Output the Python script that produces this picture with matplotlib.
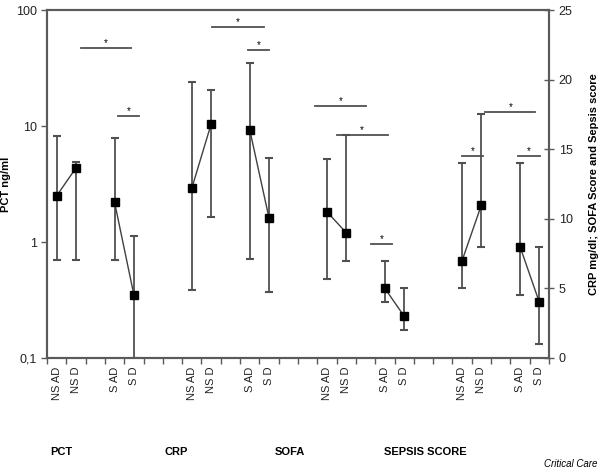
import numpy as np
import matplotlib
matplotlib.use('Agg')
import matplotlib.pyplot as plt
import matplotlib.transforms as mtransforms

plt.rcParams['font.family'] = ['Liberation Sans', 'DejaVu Sans']

# categorias
tick_labels = ['NS AD', 'NS D', 'S AD', 'S D']
groups = ['PCT', 'CRP', 'SOFA', 'SEPSIS SCORE']
slots = [0, 1, 3, 4]
offsets = [0, 7, 14, 21]

# PCT (eixo esquerdo, log)
pct_mid = [2.5, 4.35, 2.2, 0.35]
pct_lo = [0.7, 0.7, 0.7, 0.1]
pct_hi = [8.2, 4.9, 7.9, 1.13]

# CRP, SOFA, Sepsis (eixo direito)
crp_mid = [12.2, 16.8, 16.4, 10.05]
crp_lo = [4.9, 10.1, 7.1, 4.75]
crp_hi = [19.8, 19.25, 21.2, 14.4]

sofa_mid = [10.5, 9.0, 5.0, 3.0]
sofa_lo = [5.7, 7.0, 4.0, 2.0]
sofa_hi = [14.3, 16.0, 7.0, 5.0]

sepsis_mid = [7.0, 11.0, 8.0, 4.0]
sepsis_lo = [5.0, 8.0, 4.5, 1.0]
sepsis_hi = [14.0, 17.5, 14.0, 8.0]

# barras de significancia: (x inicio, x fim, y)
sig_left = [(1.24, 3.87, 47), (3.2, 4.24, 12.2)]
sig_right = [(8.06, 10.74, 23.8), (9.92, 11.0, 22.1),
             (13.4, 16.0, 18.1), (14.5, 17.15, 16.0), (16.27, 17.36, 8.2),
             (20.97, 22.1, 14.5), (23.9, 25.05, 14.5), (22.2, 24.8, 17.7)]

fig = plt.figure(figsize=(6, 4.75), dpi=100)
ax = fig.add_axes([47/600, 117/475, 502/600, 348/475])
ax2 = ax.twinx()

spine_c = '#5a5a5a'
bar_c = '#505050'

def draw_group(a, off, mid, lo, hi):
    x = np.array(slots) + off
    mid = np.array(mid)
    yerr = [mid - np.array(lo), np.array(hi) - mid]
    a.errorbar(x, mid, yerr=yerr, fmt='none', ecolor=bar_c, elinewidth=1.3,
               capsize=3, capthick=1.5, zorder=2)
    for k in (0, 2):
        a.plot(x[k:k+2], mid[k:k+2], color='#404040', lw=1, zorder=3)
    a.plot(x, mid, 's', color='black', ms=6, zorder=4)

draw_group(ax, offsets[0], pct_mid, pct_lo, pct_hi)
draw_group(ax2, offsets[1], crp_mid, crp_lo, crp_hi)
draw_group(ax2, offsets[2], sofa_mid, sofa_lo, sofa_hi)
draw_group(ax2, offsets[3], sepsis_mid, sepsis_lo, sepsis_hi)

def draw_sig(a, bars, log=False):
    for x0, x1, y in bars:
        a.plot([x0, x1], [y, y], color=bar_c, lw=1.3)
        a.annotate('*', ((x0 + x1) / 2, y), xytext=(0, 0), textcoords='offset points',
                   ha='center', va='bottom', fontsize=7)

draw_sig(ax, sig_left)
draw_sig(ax2, sig_right)

ax.set_yscale('log')
ax.set_ylim(0.1, 100)
ax.set_yticks([0.1, 1, 10, 100])
ax.set_yticklabels(['0,1', '1', '10', '100'], fontsize=9)
ax.yaxis.set_minor_locator(matplotlib.ticker.NullLocator())
ax.set_xlim(-0.5, 25.45)

ax2.set_ylim(0, 25)
ax2.set_yticks([0, 5, 10, 15, 20, 25])
ax2.set_yticklabels(['0', '5', '10', '15', '20', '25'], fontsize=9)

xt = [s + o for o in offsets for s in slots]
ax.set_xticks(xt)
ax.set_xticklabels(tick_labels * 4, rotation=90, fontsize=8, color='#222222')
ax.tick_params(axis='x', which='major', length=0, pad=6)
ax.set_xticks(np.arange(-0.5, 26, 1), minor=True)
ax.tick_params(axis='x', which='minor', length=4, color=spine_c, width=1)
ax.tick_params(axis='y', length=4, color=spine_c, width=1, labelcolor='#222222')
ax2.tick_params(axis='y', direction='inout', length=7, color=spine_c, width=1, labelcolor='#222222')

for a in (ax, ax2):
    for s in a.spines.values():
        s.set_color(spine_c)
        s.set_linewidth(1.5)

ax.set_ylabel('PCT ng/ml', fontsize=8, fontweight='bold')
ax.yaxis.set_label_coords(-0.072, 0.5)
ax2.set_ylabel('CRP mg/dl; SOFA Score and Sepsis score', fontsize=8, fontweight='bold')
ax2.yaxis.set_label_coords(1.08, 0.5)

trans = mtransforms.blended_transform_factory(ax.transData, fig.transFigure)
group_x = [0.26, 6.2, 12.1, 19.1]
for g, gx in zip(groups, group_x):
    ax.text(gx, 23/475, g, transform=trans, ha='center', va='center',
            fontsize=8, fontweight='bold')

fig.text(0.995, 0.012, 'Critical Care', ha='right', va='bottom',
         fontsize=7, style='italic')

fig.savefig('out.png', dpi=100)
